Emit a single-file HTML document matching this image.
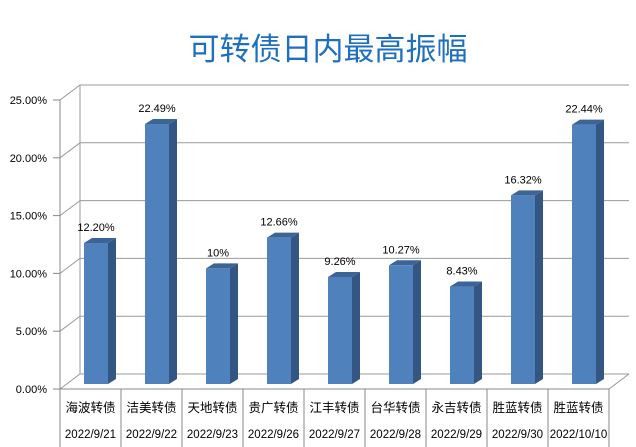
<!DOCTYPE html>
<html><head><meta charset="utf-8"><style>
body{margin:0;background:#fff}
svg{display:block;font-family:"Liberation Sans","Noto Sans CJK SC",sans-serif}
</style></head><body>
<svg id="c" width="636" height="447" viewBox="0 0 636 447">
<text x="328" y="60" text-anchor="middle" font-size="31" fill="#1f6fbf" font-family="'Liberation Sans','Noto Sans CJK SC',sans-serif">可转债日内最高振幅</text>
<g id="g"></g>
</svg>
<script>
const names=["海波转债","洁美转债","天地转债","贵广转债","江丰转债","台华转债","永吉转债","胜蓝转债","胜蓝转债"];
const dates=["2022/9/21","2022/9/22","2022/9/23","2022/9/26","2022/9/27","2022/9/28","2022/9/29","2022/9/30","2022/10/10"];
const values=[12.20,22.49,10,12.66,9.26,10.27,8.43,16.32,22.44];
const valueLabels=["12.20%","22.49%","10%","12.66%","9.26%","10.27%","8.43%","16.32%","22.44%"];
const ticks=[0,5,10,15,20,25];
const tickLabels=["0.00%","5.00%","10.00%","15.00%","20.00%","25.00%"];
const NS="http://www.w3.org/2000/svg";
const g=document.getElementById('g');
const X0=60,CW=61,Y0=389,PX=11.56,DX=20,DY=15;
const yF=v=>Y0-v*PX;
function el(t,a,txt){const e=document.createElementNS(NS,t);for(const k in a)e.setAttribute(k,a[k]);if(txt!==undefined)e.textContent=txt;g.appendChild(e);return e;}
const XR=X0+names.length*CW;
// walls
let e=el('line',{x1:X0+DX,y1:yF(0)-DY,x2:X0+DX,y2:yF(25)-DY,stroke:'#999'});

ticks.forEach((t,i)=>{
 let l=el('polyline',{points:`${X0},${yF(t)} ${X0+DX},${yF(t)-DY} ${XR+DX},${yF(t)-DY}`,fill:'none',stroke:'#999'});
 
 let tk=el('line',{x1:X0-7,y1:yF(t),x2:X0,y2:yF(t),stroke:'#888'});
 
 let tx=el('text',{x:X0-13,y:yF(t)+4,'text-anchor':'end','font-size':11,fill:'#000'},tickLabels[i]);
 
});
e=el('line',{x1:XR,y1:Y0,x2:XR+DX,y2:Y0-DY,stroke:'#999'});

e=el('line',{x1:X0,y1:yF(25),x2:X0,y2:Y0,stroke:'#888'});

e=el('line',{x1:X0,y1:Y0,x2:XR,y2:Y0,stroke:'#888'});

for(let i=0;i<=names.length;i++){
 let s=el('line',{x1:X0+i*CW,y1:Y0,x2:X0+i*CW,y2:447,stroke:'#888'});
 
}
values.forEach((v,i)=>{
 const x=X0+i*CW+24,w=24,b=Y0-5,t=b-v*PX,d=8,h=5;
 let s=el('polygon',{points:`${x+w},${b} ${x+w+d},${b-h} ${x+w+d},${t-h} ${x+w},${t}`,fill:'#345682'});
 
 let tp=el('polygon',{points:`${x},${t} ${x+d},${t-h} ${x+w+d},${t-h} ${x+w},${t}`,fill:'#3d6496'});
 
 let f=el('rect',{x:x,y:t,width:w,height:b-t,fill:'#4f81bd'});
 
 let lb=el('text',{x:x+w/2,y:t-12,'text-anchor':'middle','font-size':11,fill:'#000'},valueLabels[i]);
 
 const cx=X0+i*CW+CW/2;
 let n=el('text',{x:cx,y:412,'text-anchor':'middle','font-size':12.5,fill:'#000'},names[i]);
 
 let dt=el('text',{x:cx,y:438,'text-anchor':'middle','font-size':11.5,fill:'#000'},dates[i]);
 
});
</script>
</body></html>
